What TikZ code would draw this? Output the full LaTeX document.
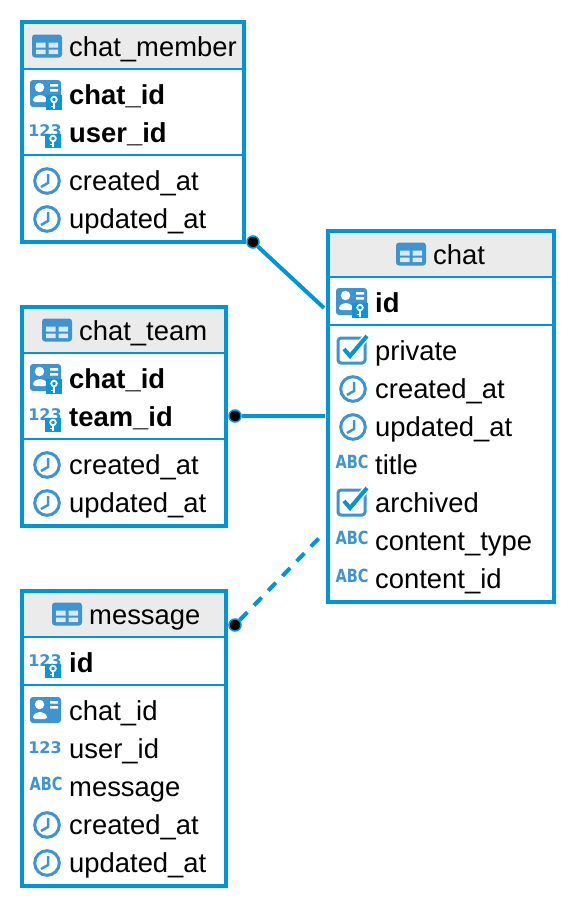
\documentclass[tikz,border=0pt]{standalone}
\usepackage{fontspec}
\setmainfont{Liberation Sans}
\newfontfamily\iconfont{DejaVu Sans}
\definecolor{frameblue}{HTML}{0095D5}
\definecolor{iconblue}{HTML}{3D94D0}
\definecolor{headgrey}{HTML}{EBEBEB}
\newcommand{\fieldtxt}[4]{\node[fieldlabel] (#1) at (#2,#3+9) {#4};}
\newcommand{\fieldbold}[4]{\node[fieldlabel,font=\fontsize{27.4}{30}\selectfont\bfseries] (#1) at (#2,#3+9) {#4};}
\tikzset{
  x=1pt,y=-1pt,
  tablebox/.style={draw=frameblue,line width=4pt,fill=white,rectangle,inner sep=0pt,anchor=north west},
  headbox/.style={fill=headgrey,rectangle,inner sep=0pt,outer sep=0pt,anchor=north west},
  sepline/.style={draw=frameblue,line width=2pt},
  fieldlabel/.style={anchor=base west,inner sep=0pt,font=\fontsize{27.4}{30}\selectfont,text=black},
  link/.style={draw=frameblue,line width=4pt},
  enddot/.style={circle,fill=black,draw=frameblue,line width=1.5pt,minimum size=12pt,inner sep=0pt},
  pics/tblicon/.style={code={
    \fill[iconblue,rounded corners=3pt] (-15,-11.5) rectangle (15,11.5);
    \fill[white!80!iconblue] (-11,-3.5) rectangle (-1.5,1.5) (1.5,-3.5) rectangle (11,1.5)
      (-11,3.5) rectangle (-1.5,8) (1.5,3.5) rectangle (11,8);
  }},
  pics/keybadge/.style={code={
    \fill[frameblue!75!iconblue] (-1,#1) rectangle (15,15);
    \draw[white,line width=1.8pt] (7,#1+4.5) circle (2.8);
    \draw[white,line width=1.8pt] (7,#1+7) -- (7,14) (7,11.5) -- (4,11.5);
  }},
  pics/pkicon/.style={code={
    \fill[iconblue,rounded corners=3pt] (-17,-15) rectangle (14,12);
    \fill[white] (-7.5,-7.5) circle (4.8);
    \fill[white,rounded corners=2.5pt] (-14,7) -- (-14,3) -- (-9,0) -- (-5,0) -- (0,3) -- (0,7) -- cycle;
    \fill[white] (3,-11) rectangle (11,-8.5) (3,-6) rectangle (11,-3.5);
    \pic {keybadge=0};
  }},
  pics/numicon/.style={code={
    \node[inner sep=0pt,text=iconblue,font=\iconfont\fontsize{16}{16}\selectfont\bfseries] at (-1,-2) {123};
    \pic {keybadge=1};
  }},
  pics/plainnum/.style={code={
    \node[inner sep=0pt,text=iconblue,font=\iconfont\fontsize{16}{16}\selectfont\bfseries] at (-1,-1) {123};
  }},
  pics/abcicon/.style={code={
    \node[inner sep=0pt,text=iconblue,font=\iconfont\fontsize{14.5}{15}\selectfont\bfseries,transform shape,yscale=1.25] at (0,-3) {ABC};
  }},
  pics/clockicon/.style={code={
    \draw[iconblue,line width=3pt] (0,0) circle (12.3);
    \draw[iconblue,line width=2.5pt] (1,-7) -- (1,2) -- (-6,6);
  }},
  pics/checkicon/.style={code={
    \draw[iconblue,line width=3pt,rounded corners=3pt] (-14,-13) rectangle (13,12);
    \draw[white,line width=7pt] (-8,-2) -- (-2,5) -- (15,-15);
    \draw[frameblue,line width=4pt] (-8,-2) -- (-2,5) -- (15,-15);
  }},
}
\begin{document}
\begin{tikzpicture}
\useasboundingbox (0,0) rectangle (576,908);
% chat_member
\node[tablebox,minimum width=222pt,minimum height=220pt] (mbox) at (20,20) {};
\node[headbox,minimum width=218pt,minimum height=44pt] (mhead) at (24,24) {};
\draw[sepline] (mbox.west |- 0,68.5) -- (mbox.east |- 0,68.5);
\draw[sepline] (mbox.west |- 0,155) -- (mbox.east |- 0,155);
\pic at (47,46) {tblicon};
\fieldtxt{mt}{69}{47}{chat\_member}
\pic at (47,95) {pkicon};
\fieldbold{ma}{69}{95}{chat\_id}
\pic at (46,133) {numicon};
\fieldbold{mb}{69}{133}{user\_id}
\pic at (47,181) {clockicon};
\fieldtxt{mc}{69}{181}{created\_at}
\pic at (47,219) {clockicon};
\fieldtxt{md}{69}{219}{updated\_at}
% chat_team
\node[tablebox,minimum width=204pt,minimum height=219pt] (tbox) at (20,305) {};
\node[headbox,minimum width=200pt,minimum height=44pt] (thead) at (24,309) {};
\draw[sepline] (tbox.west |- 0,353) -- (tbox.east |- 0,353);
\draw[sepline] (tbox.west |- 0,439) -- (tbox.east |- 0,439);
\pic at (57,330) {tblicon};
\fieldtxt{tt}{79}{331}{chat\_team}
\pic at (47,379) {pkicon};
\fieldbold{ta}{69}{379}{chat\_id}
\pic at (46,417) {numicon};
\fieldbold{tb}{69}{417}{team\_id}
\pic at (47,465) {clockicon};
\fieldtxt{tc}{69}{465}{created\_at}
\pic at (47,503) {clockicon};
\fieldtxt{td}{69}{503}{updated\_at}
% message
\node[tablebox,minimum width=204pt,minimum height=295pt] (gbox) at (20,589) {};
\node[headbox,minimum width=200pt,minimum height=44pt] (ghead) at (24,593) {};
\draw[sepline] (gbox.west |- 0,637) -- (gbox.east |- 0,637);
\draw[sepline] (gbox.west |- 0,685) -- (gbox.east |- 0,685);
\pic at (67,614) {tblicon};
\fieldtxt{gt}{89}{615}{message}
\pic at (46,663) {numicon};
\fieldbold{ga}{69}{663}{id}
\begin{scope}[shift={(47,711)}]
  \fill[iconblue,rounded corners=3pt] (-17,-14) rectangle (14,12);
  \fill[white] (-7.5,-6.5) circle (4.8);
  \fill[white,rounded corners=2.5pt] (-14,8) -- (-14,4) -- (-9,1) -- (-5,1) -- (0,4) -- (0,8) -- cycle;
  \fill[white] (3,-10) rectangle (11,-7.5) (3,-5) rectangle (11,-2.5);
\end{scope}
\fieldtxt{gb}{69}{711}{chat\_id}
\pic at (46,749) {plainnum};
\fieldtxt{gc}{69}{749}{user\_id}
\pic at (46,787) {abcicon};
\fieldtxt{gd}{69}{787}{message}
\pic at (47,825) {clockicon};
\fieldtxt{ge}{69}{825}{created\_at}
\pic at (47,863) {clockicon};
\fieldtxt{gf}{69}{863}{updated\_at}
% chat
\node[tablebox,minimum width=226pt,minimum height=371pt] (cbox) at (326,229) {};
\node[headbox,minimum width=222pt,minimum height=44pt] (chead) at (330,233) {};
\draw[sepline] (cbox.west |- 0,277) -- (cbox.east |- 0,277);
\draw[sepline] (cbox.west |- 0,325) -- (cbox.east |- 0,325);
\pic at (411,254) {tblicon};
\fieldtxt{ct}{433}{255}{chat}
\pic at (353,303) {pkicon};
\fieldbold{ca}{375}{303}{id}
\pic at (352,351) {checkicon};
\fieldtxt{cb}{375}{351}{private}
\pic at (353,389) {clockicon};
\fieldtxt{cc}{375}{389}{created\_at}
\pic at (353,427) {clockicon};
\fieldtxt{cd}{375}{427}{updated\_at}
\pic at (352,465) {abcicon};
\fieldtxt{ce}{375}{465}{title}
\pic at (352,503) {checkicon};
\fieldtxt{cf}{375}{503}{archived}
\pic at (352,541) {abcicon};
\fieldtxt{cg}{375}{541}{content\_type}
\pic at (352,579) {abcicon};
\fieldtxt{ch}{375}{579}{content\_id}
% connectors
\node[enddot] (d1) at (253,242) {};
\node[enddot] (d2) at (235,416) {};
\node[enddot] (d3) at (235,625) {};
\coordinate (e1) at (324,308);
\coordinate (e2) at (325,416);
\coordinate (e3) at (322,535);
\draw[link] (d1) -- (e1);
\draw[link] (d2) -- (e2);
\draw[link,dash pattern=on 11pt off 9.5pt] (d3) -- (e3);
\end{tikzpicture}
\end{document}
